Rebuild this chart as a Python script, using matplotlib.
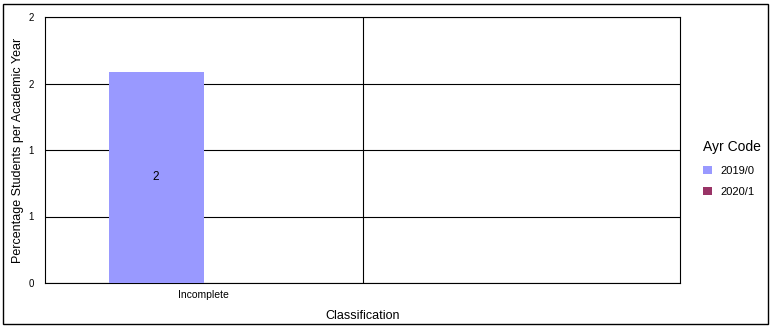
import numpy as np
import matplotlib
matplotlib.use("Agg")
import matplotlib.pyplot as plt
from matplotlib.patches import Rectangle

categories = ["Incomplete", ""]
series_names = ["2019/0", "2020/1"]
series_colors = ["#9999ff", "#993366"]
values_2019 = [1.59, 0.0]
values_2020 = [0.0, 0.0]
y_ticks = [0, 0.5, 1.0, 1.5, 2.0]
y_tick_labels = ["0", "1", "1", "2", "2"]

plt.rcParams["font.family"] = ["Liberation Sans", "DejaVu Sans"]

W, H = 771, 327
fig = plt.figure(figsize=(W / 100, H / 100), dpi=100)
fig.patch.set_facecolor("white")
fig.add_artist(Rectangle((3 / W, 3 / H), 765 / W, 320 / H, transform=fig.transFigure,
                         fill=False, edgecolor="black", linewidth=1.0))

left, right, top, bottom = 45, 680, 17, 283
ax = fig.add_axes([left / W, 1 - bottom / H, (right - left) / W, (bottom - top) / H])

x = np.arange(len(categories))
width = 0.3
for i, (vals, name, col) in enumerate(zip([values_2019, values_2020], series_names, series_colors)):
    bars = ax.bar(x + (i - 0.5) * width, vals, width, color=col, label=name, zorder=3)
    for rect, v in zip(bars, vals):
        if v > 0:
            ax.text(rect.get_x() + rect.get_width() / 2, v / 2, f"{v:.0f}",
                    ha="center", va="center", fontsize=8.5, zorder=4)

ax.set_xlim(-0.5, len(categories) - 0.5)
ax.set_ylim(0, 2)
ax.set_yticks(y_ticks)
ax.set_yticklabels(y_tick_labels, fontsize=7)
ax.set_xticks(x)
ax.set_xticklabels(categories, fontsize=7.5)
ax.tick_params(axis="both", length=0, pad=5)
ax.tick_params(axis="y", pad=8)
ax.grid(axis="y", color="black", linewidth=0.8, zorder=1)
for xb in np.arange(0.5, len(categories) - 0.5, 1):
    ax.axvline(xb, color="black", linewidth=0.8, zorder=1)
for s in ax.spines.values():
    s.set_linewidth(0.8)

ax.set_xlabel("Classification", fontsize=9, labelpad=7)
ax.set_ylabel("Percentage Students per Academic Year", fontsize=9)
ax.yaxis.set_label_coords(-0.033, 0.5)

leg = ax.legend(title="Ayr Code", loc="center left", bbox_to_anchor=(1.02, 0.43),
                frameon=False, fontsize=8, title_fontsize=10,
                handlelength=0.8, handleheight=0.8, handletextpad=0.8, labelspacing=1.0)
leg._legend_box.align = "left"

fig.savefig("out.png", dpi=100)
